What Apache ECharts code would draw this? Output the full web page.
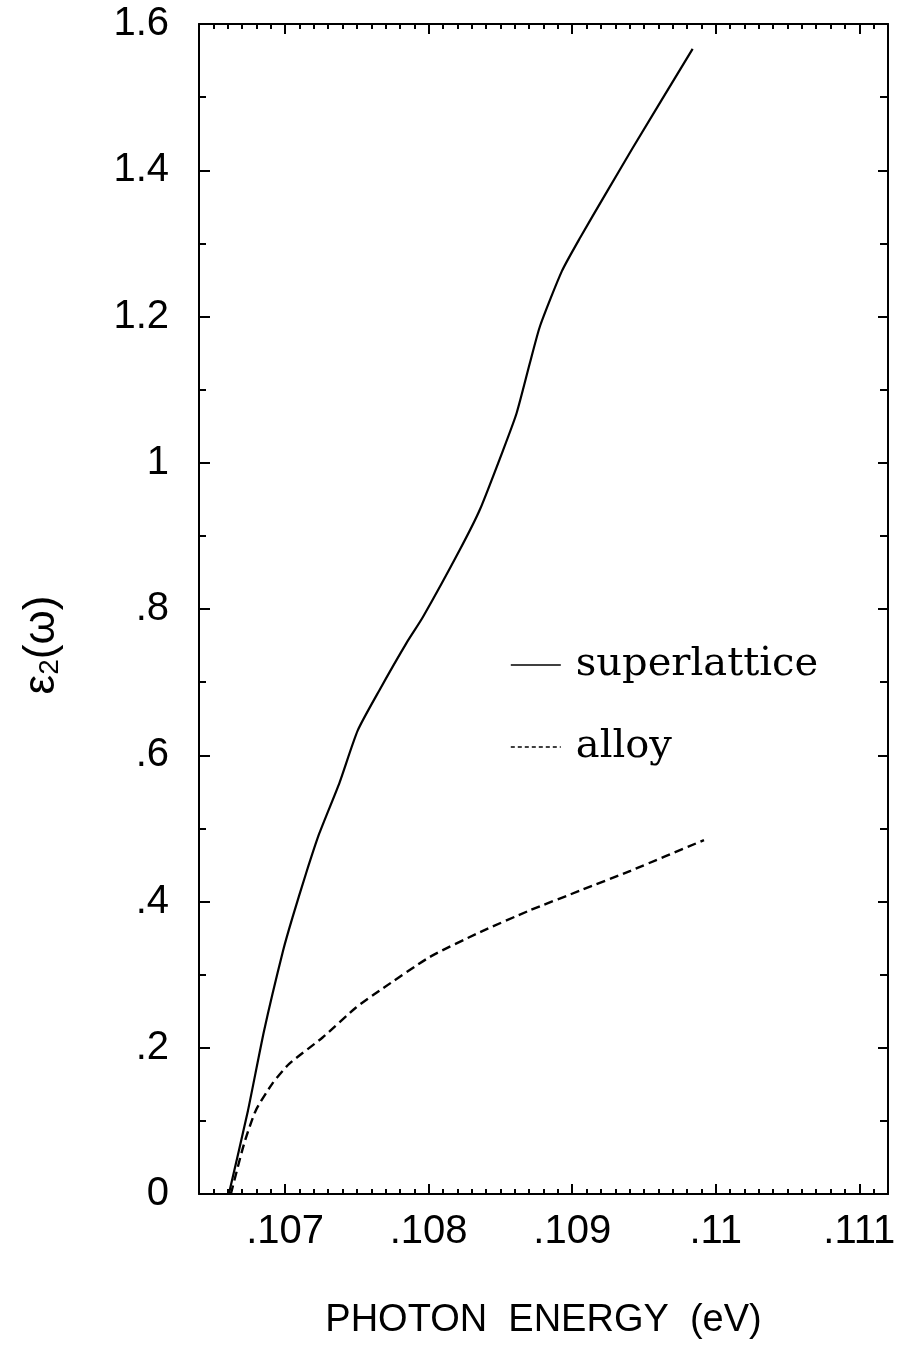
<!DOCTYPE html>
<html>
<head>
<meta charset="utf-8">
<script src="https://cdn.jsdelivr.net/npm/echarts@6/dist/echarts.min.js"></script>
<style>
html,body{margin:0;padding:0;background:#fff;}
#chart{width:904px;height:1353px;}
</style>
</head>
<body>
<div id="chart"></div>
<script>
// ---- data ----
const superX = [0.106608,0.106741,0.106853,0.106986,0.107051,0.107145,0.107238,0.107378,0.107506,0.107657,0.107844,0.107960,0.108217,0.108357,0.108520,0.108613,0.108706,0.108776,0.108928,0.109056,0.109231,0.109417,0.109839];
const superY = [0,0.114,0.223,0.333,0.378,0.438,0.493,0.562,0.634,0.689,0.753,0.789,0.881,0.936,1.018,1.068,1.137,1.187,1.262,1.308,1.367,1.429,1.566];
const alloyX = [0.106622,0.106713,0.106795,0.106911,0.107028,0.107261,0.107494,0.107657,0.108007,0.108357,0.108706,0.109056,0.109406,0.109918];
const alloyY = [0,0.068,0.114,0.151,0.178,0.214,0.255,0.278,0.324,0.358,0.388,0.415,0.442,0.484];
const xTickValues = [0.107,0.108,0.109,0.110,0.111];
const xTickLabels = ['.107','.108','.109','.11','.111'];
const yTickValues = [0,0.2,0.4,0.6,0.8,1.0,1.2,1.4,1.6];
const yTickLabels = ['0','.2','.4','.6','.8','1','1.2','1.4','1.6'];
const seriesNames = ['superlattice','alloy'];

const X_MIN = 0.1064, X_MAX = 0.1112;
const zip = (a,b) => a.map((v,i)=>[v,b[i]]);
const lookup = (vals, labs) => v => {
  let best = 0;
  vals.forEach((t,i)=>{ if (Math.abs(t-v) < Math.abs(vals[best]-v)) best = i; });
  return labs[best];
};
const tickFont = {fontFamily:'Liberation Sans', fontSize:40, color:'#000'};
const axLine = {show:true, lineStyle:{color:'#000', width:2}};

const chart = echarts.init(document.getElementById('chart'), null, {renderer:'canvas'});
chart.setOption({
  backgroundColor:'#fff',
  animation:false,
  grid:{left:199, right:16, top:24, bottom:159},
  legend:{
    orient:'vertical', left:505, top:640, itemWidth:50, itemHeight:14, itemGap:42,
    itemStyle:{color:'rgba(0,0,0,0)', borderWidth:0, opacity:0},
    data:[
      {name:seriesNames[0], lineStyle:{color:'#000', width:1.6, type:'solid'}},
      {name:seriesNames[1], lineStyle:{color:'#000', width:1.6, type:[4,3]}}
    ],
    textStyle:{fontFamily:'DejaVu Serif', fontSize:40, color:'#000', padding:[0,0,0,10], lineHeight:40}
  },
  xAxis:[
    {type:'value', min:X_MIN, max:X_MAX, interval:0.0001, position:'bottom',
     axisLine:axLine, splitLine:{show:false},
     axisTick:{show:true, inside:true, length:5, lineStyle:{color:'#000', width:2}},
     axisLabel:{show:true, customValues:xTickValues, formatter:lookup(xTickValues,xTickLabels), margin:18, ...tickFont},
     name:'PHOTON  ENERGY  (eV)', nameLocation:'middle', nameGap:108,
     nameTextStyle:{fontFamily:'Liberation Sans', fontSize:38, color:'#000'}},
    {type:'value', min:X_MIN, max:X_MAX, position:'bottom',
     axisLine:{show:false}, splitLine:{show:false}, axisLabel:{show:false},
     axisTick:{show:true, inside:true, length:10, customValues:xTickValues, lineStyle:{color:'#000', width:2}}},
    {type:'value', min:X_MIN, max:X_MAX, interval:0.0001, position:'top',
     axisLine:axLine, splitLine:{show:false}, axisLabel:{show:false},
     axisTick:{show:true, inside:true, length:5, lineStyle:{color:'#000', width:2}}},
    {type:'value', min:X_MIN, max:X_MAX, position:'top',
     axisLine:{show:false}, splitLine:{show:false}, axisLabel:{show:false},
     axisTick:{show:true, inside:true, length:10, customValues:xTickValues, lineStyle:{color:'#000', width:2}}}
  ],
  yAxis:[
    {type:'value', min:0, max:1.6, interval:0.2, position:'left',
     axisLine:axLine, splitLine:{show:false},
     axisTick:{show:true, inside:true, length:11, lineStyle:{color:'#000', width:2}},
     minorTick:{show:true, splitNumber:2, length:7, lineStyle:{color:'#000', width:2}},
     axisLabel:{formatter:lookup(yTickValues,yTickLabels), margin:30, ...tickFont}},
    {type:'value', min:0, max:1.6, interval:0.2, position:'right',
     axisLine:axLine, splitLine:{show:false}, axisLabel:{show:false},
     axisTick:{show:true, inside:true, length:10, lineStyle:{color:'#000', width:2}},
     minorTick:{show:true, splitNumber:2, length:8, lineStyle:{color:'#000', width:2}}}
  ],
  series:[
    {name:seriesNames[0], type:'line', xAxisIndex:0, yAxisIndex:0, data:zip(superX,superY),
     showSymbol:false, symbol:'none', smooth:0.2, lineStyle:{color:'#000', width:2.2, type:'solid'}, itemStyle:{color:'#000'}},
    {name:seriesNames[1], type:'line', xAxisIndex:0, yAxisIndex:0, data:zip(alloyX,alloyY),
     showSymbol:false, symbol:'none', smooth:0.2, lineStyle:{color:'#000', width:2.4, type:[9,5]}, itemStyle:{color:'#000'}}
  ],
  graphic:[
    {type:'text', x:42, y:645, rotation:Math.PI/2,
     style:{text:'{e|ε}{s|2}{e|(ω)}', align:'center', verticalAlign:'middle',
       rich:{e:{fontFamily:'Liberation Sans', fontSize:44, fill:'#000'},
             s:{fontFamily:'Liberation Sans', fontSize:28, fill:'#000', padding:[16,0,0,0]}}}}
  ]
});
</script>
</body>
</html>
